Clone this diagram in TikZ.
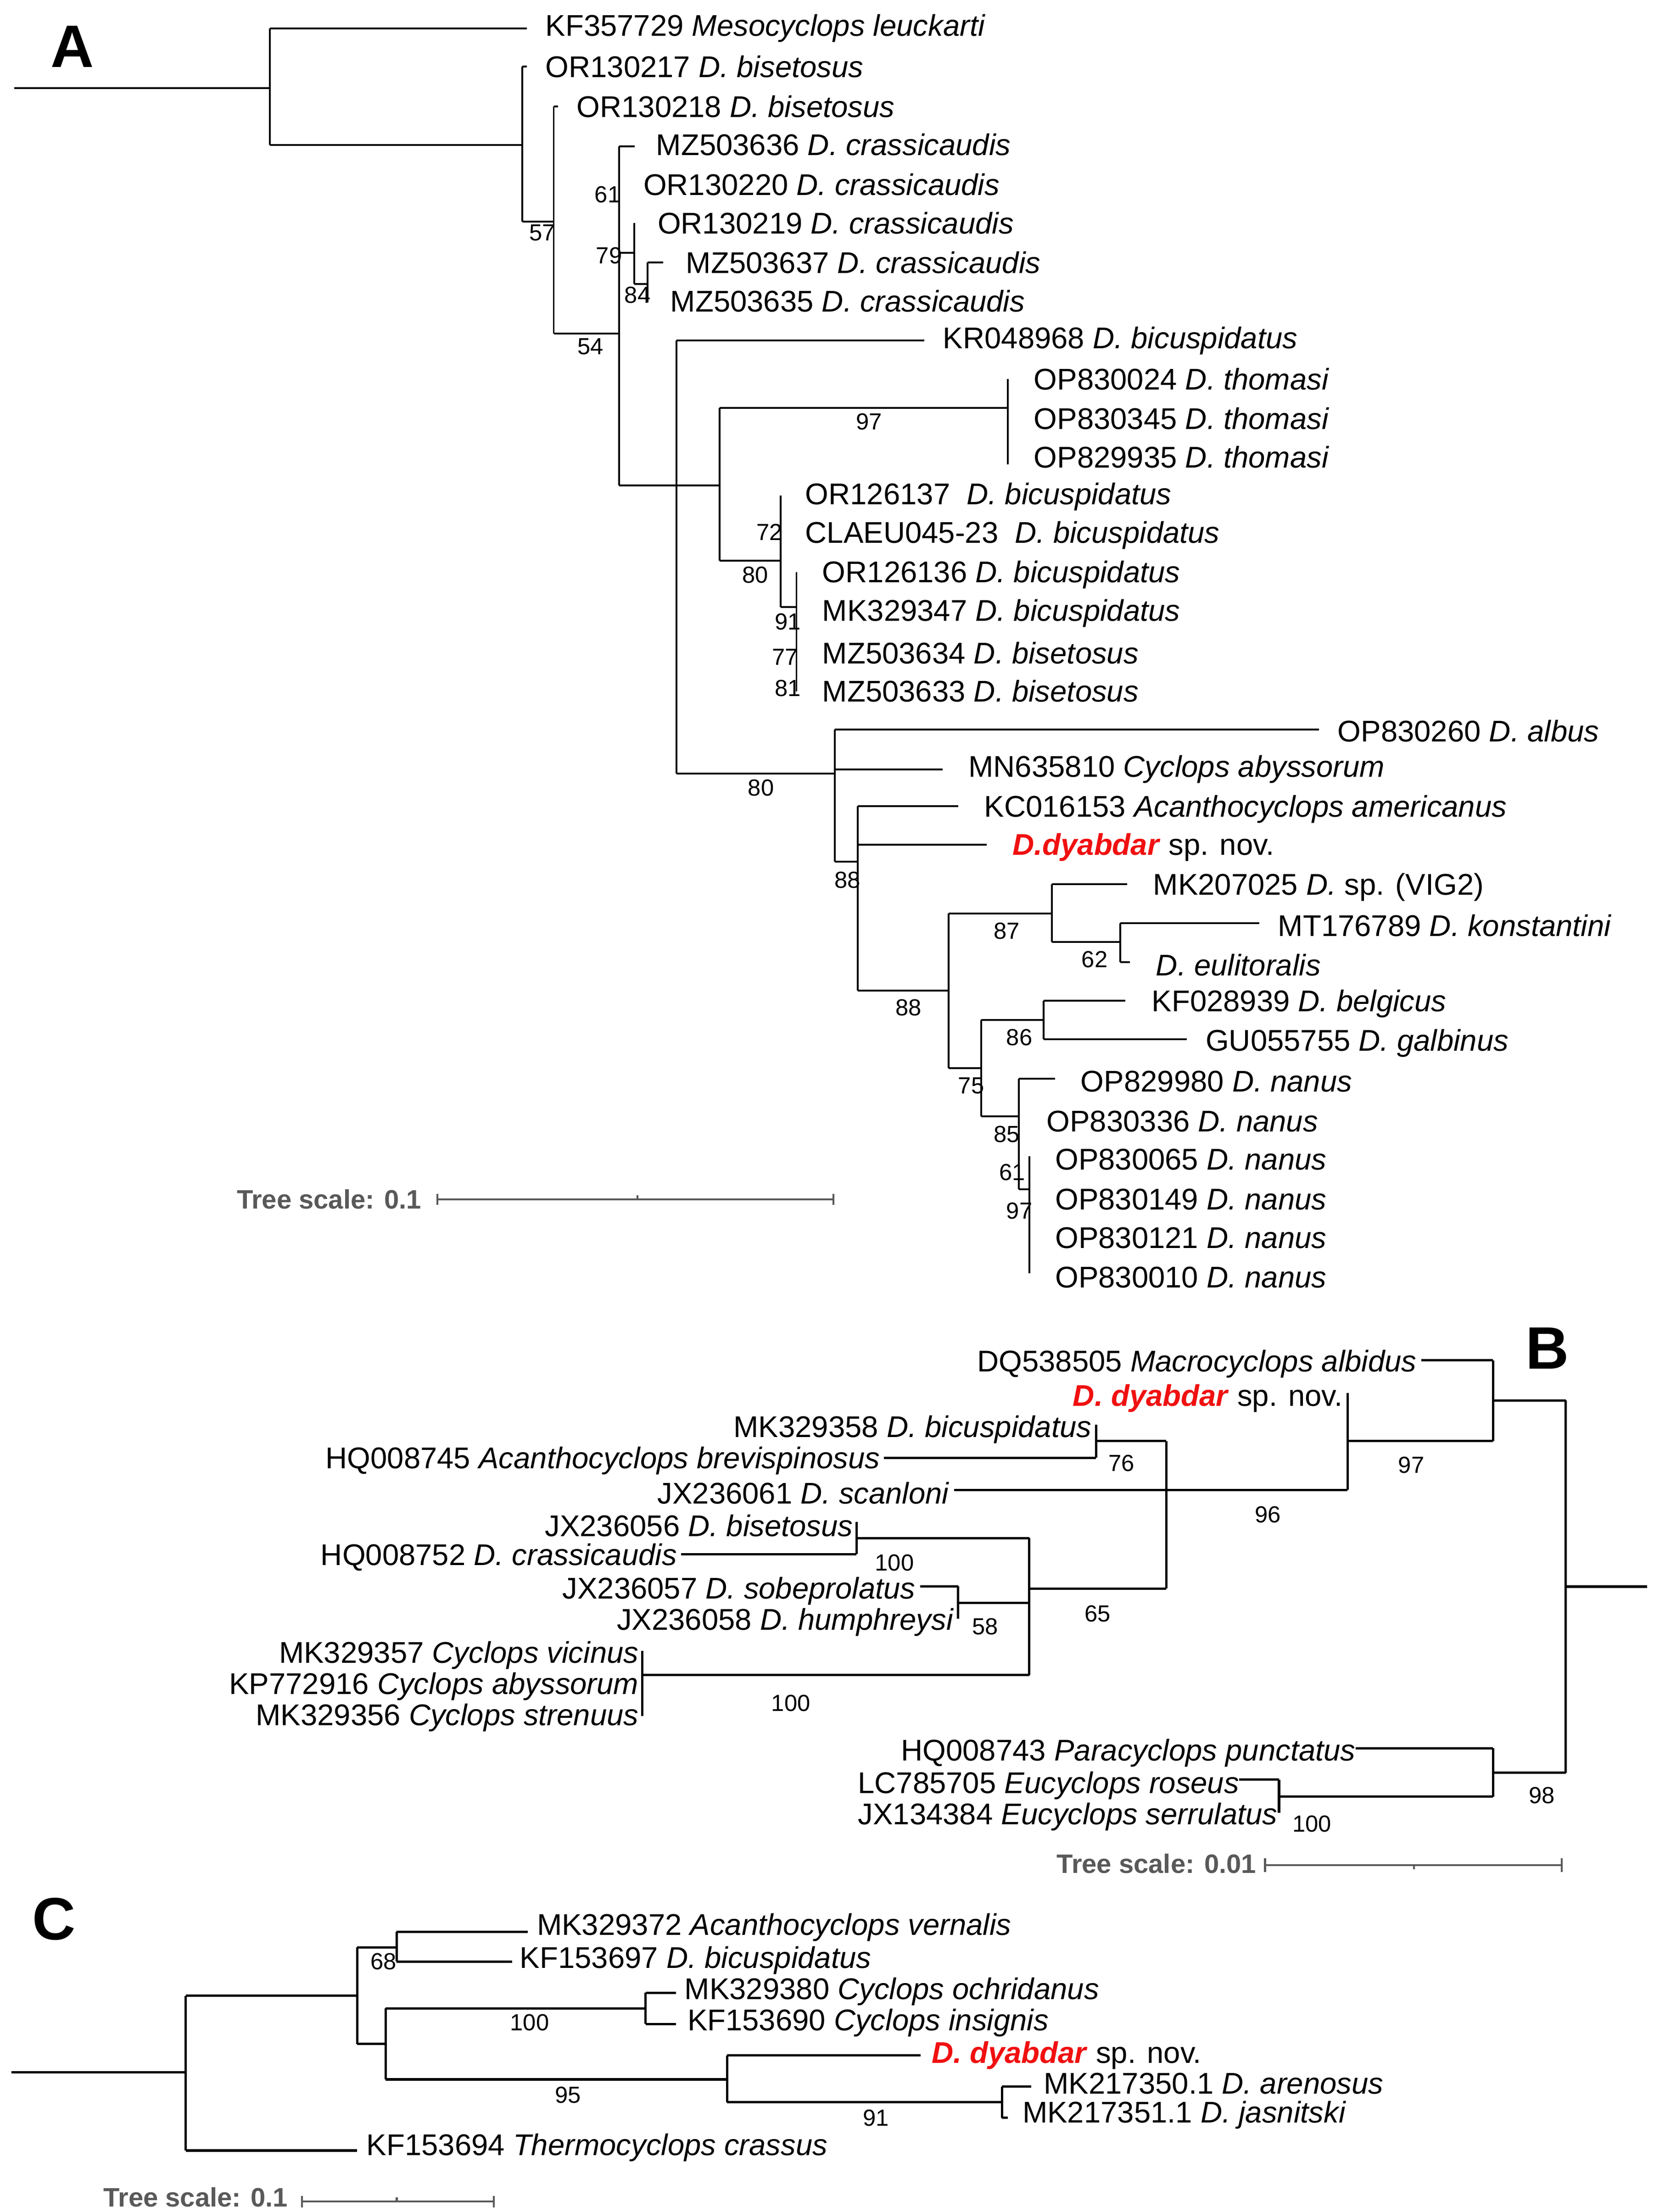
\documentclass[tikz,border=0pt]{standalone}
\usepackage{fontspec}
\setmainfont{Liberation Sans}
\definecolor{scalegray}{HTML}{595959}
\definecolor{novred}{HTML}{F01010}
\newcommand\lfW[4]{\node[lab,anchor=west] at (#1,#2) {#3 \textit{#4}};}
\newcommand\lfE[4]{\node[lab,anchor=east] at (#1,#2) {#3 \textit{#4}};}
\newcommand\bsv[3]{\node[sp] at (#1,#2) {#3};}
\newcommand\dy{\textcolor{novred}{\textbf{\textit{D. dyabdar}}}}
\begin{document}
\begin{tikzpicture}[x=0.03cm,y=-0.03cm,
  lab/.style={inner sep=0pt,font=\fontsize{18}{20}\selectfont},
  sp/.style={inner sep=0pt,font=\fontsize{14}{16}\selectfont},
  br/.style={line width=1.1pt},
  brB/.style={line width=1.4pt},
  brC/.style={line width=1.5pt},
  sc/.style={line width=1.2pt,draw=scalegray},
  sct/.style={inner sep=0pt,font=\fontsize{16}{18}\selectfont\bfseries,text=scalegray},
  panel/.style={inner sep=0pt,font=\fontsize{36}{40}\selectfont\bfseries}]
\useasboundingbox[fill=white] (0,0) rectangle (1165,1558.4);

% ================= A =================
\node[panel] (pA) at (51,33) {A};
\begin{scope}[br]
\draw (10,62) -- (190,62);
\draw (190,20) -- (190,102);
\draw (190,20) -- (371,20);
\draw (190,102) -- (368,102);
\draw (368,47) -- (368,156);
\draw (368,47) -- (371,47);
\draw (368,156) -- (390,156);
\draw (390,75) -- (390,235);
\draw (390,75) -- (393,75);
\draw (390,235) -- (436,235);
\draw (436,103) -- (436,342);
\draw (436,103) -- (447,103);
\draw (436,178) -- (446.6,178);
\draw (446.6,157) -- (446.6,200);
\draw (446.6,200) -- (456,200);
\draw (456,185) -- (456,213);
\draw (456,185) -- (467,185);
\draw (436,342) -- (507,342);
\draw (476.5,240) -- (476.5,545);
\draw (476.5,240) -- (651,240);
\draw (507,287.5) -- (507,395);
\draw (507,287.5) -- (710,287.5);
\draw (710,267) -- (710,327);
\draw (507,395) -- (550,395);
\draw (550,349) -- (550,427.5);
\draw (550,427.5) -- (561,427.5);
\draw (561,403) -- (561,487);
\draw (476.5,545) -- (588,545);
\draw (588,514) -- (588,607);
\draw (588,514) -- (929,514);
\draw (588,542) -- (664,542);
\draw (588,607) -- (604,607);
\draw (604,568) -- (604,698);
\draw (604,568) -- (675,568);
\draw (604,595) -- (695,595);
\draw (604,698) -- (668,698);
\draw (668,643.5) -- (668,752.4);
\draw (668,643.5) -- (741,643.5);
\draw (741,623) -- (741,663.6);
\draw (741,623) -- (794,623);
\draw (741,663.6) -- (789,663.6);
\draw (789,650.5) -- (789,678);
\draw (789,650.5) -- (887,650.5);
\draw (789,678) -- (796,678);
\draw (668,752.4) -- (691,752.4);
\draw (691,718.6) -- (691,786.4);
\draw (691,718.6) -- (735,718.6);
\draw (735,705) -- (735,732);
\draw (735,705) -- (792.5,705);
\draw (735,732) -- (836,732);
\draw (691,786.4) -- (717.6,786.4);
\draw (717.6,760) -- (717.6,838);
\draw (717.6,760) -- (743,760);
\draw (717.6,838) -- (725,838);
\draw (725,814.5) -- (725,897);
\end{scope}

\lfW{384}{20}{KF357729}{Mesocyclops leuckarti}
\lfW{384}{47}{OR130217}{D. bisetosus}
\lfW{406}{75}{OR130218}{D. bisetosus}
\lfW{462}{102}{MZ503636}{D. crassicaudis}
\lfW{453}{130}{OR130220}{D. crassicaudis}
\lfW{463}{157}{OR130219}{D. crassicaudis}
\lfW{483}{185}{MZ503637}{D. crassicaudis}
\lfW{472}{212}{MZ503635}{D. crassicaudis}
\lfW{664}{240}{KR048968}{D. bicuspidatus}
\lfW{728}{267}{OP830024}{D. thomasi}
\lfW{728}{295}{OP830345}{D. thomasi}
\lfW{728}{322}{OP829935}{D. thomasi}
\lfW{567}{350}{OR126137\ }{D. bicuspidatus}
\lfW{567}{377}{CLAEU045-23\ }{D. bicuspidatus}
\lfW{579}{405}{OR126136}{D. bicuspidatus}
\lfW{579}{432}{MK329347}{D. bicuspidatus}
\lfW{579}{460}{MZ503634}{D. bisetosus}
\lfW{579}{487}{MZ503633}{D. bisetosus}
\lfW{942}{515}{OP830260}{D. albus}
\lfW{682}{542}{MN635810}{Cyclops abyssorum}
\lfW{693}{570}{KC016153}{Acanthocyclops americanus}
\node[lab,anchor=west] at (713,597) {\textcolor{novred}{\textbf{\textit{D.dyabdar}}} sp. nov.};
\lfW{812}{625}{MK207025}{D.\upshape\ sp. (VIG2)}
\lfW{900}{652}{MT176789}{D. konstantini}
\node[lab,anchor=west] at (814,680) {\textit{D. eulitoralis}};
\lfW{811}{707}{KF028939}{D. belgicus}
\lfW{849}{735}{GU055755}{D. galbinus}
\lfW{761}{762}{OP829980}{D. nanus}
\lfW{737}{790}{OP830336}{D. nanus}
\lfW{743}{817}{OP830065}{D. nanus}
\lfW{743}{845}{OP830149}{D. nanus}
\lfW{743}{872}{OP830121}{D. nanus}
\lfW{743}{900}{OP830010}{D. nanus}

\bsv{382}{164}{57}
\bsv{416}{244}{54}
\bsv{428}{137}{61}
\bsv{429}{180}{79}
\bsv{449}{208}{84}
\bsv{612}{297}{97}
\bsv{542}{375}{72}
\bsv{532}{405}{80}
\bsv{555}{438}{91}
\bsv{553}{463}{77}
\bsv{555}{485}{81}
\bsv{536}{555}{80}
\bsv{597}{620}{88}
\bsv{709}{656}{87}
\bsv{771}{676}{62}
\bsv{640}{710}{88}
\bsv{718}{731}{86}
\bsv{684}{765}{75}
\bsv{709}{799}{85}
\bsv{713}{826}{61}
\bsv{718}{853}{97}

\node[sct,anchor=east] at (297,845) {Tree scale: 0.1};
\draw[sc] (308,845) -- (587,845);
\draw[sc] (308,841) -- (308,849);
\draw[sc] (587,841) -- (587,849);
\draw[sc] (449,845) -- (449,842);

% ================= B =================
\node[panel] (pB) at (1090,950) {B};
\begin{scope}[brB]
\draw (772,1003.7) -- (772,1027);
\draw (622.5,1027) -- (772,1027);
\draw (772,1015.2) -- (821.4,1015.2);
\draw (821.4,1015.2) -- (821.4,1119.1);
\draw (672,1049.7) -- (949.1,1049.7);
\draw (603.2,1072.3) -- (603.2,1095);
\draw (479.6,1095) -- (603.2,1095);
\draw (603.2,1083.6) -- (724.9,1083.6);
\draw (724.9,1083.6) -- (724.9,1180.1);
\draw (674.8,1117.6) -- (674.8,1140.3);
\draw (648,1117.6) -- (674.8,1117.6);
\draw (674.8,1129.4) -- (724.9,1129.4);
\draw (724.9,1119.1) -- (821.4,1119.1);
\draw (452.3,1163) -- (452.3,1209);
\draw (452.3,1180.1) -- (724.9,1180.1);
\draw (949.1,981.3) -- (949.1,1049.7);
\draw (949.1,1015.2) -- (1051.6,1015.2);
\draw (1051.6,958.3) -- (1051.6,1015.2);
\draw (1001,958.3) -- (1051.6,958.3);
\draw (1051.6,986.7) -- (1102.8,986.7);
\draw (1102.8,986.7) -- (1102.8,1248.9);
\draw (1102.8,1117.8) -- (1160,1117.8);
\draw (1102.8,1248.9) -- (1051.6,1248.9);
\draw (1051.6,1231.6) -- (1051.6,1265.7);
\draw (955,1231.6) -- (1051.6,1231.6);
\draw (900.9,1265.7) -- (1051.6,1265.7);
\draw (900.9,1253.8) -- (900.9,1277.3);
\draw (872.9,1253.8) -- (900.9,1253.8);
\end{scope}

\lfE{998}{961}{DQ538505}{Macrocyclops albidus}
\node[lab,anchor=east] at (946,985) {\dy\ sp. nov.};
\lfE{769}{1007}{MK329358}{D. bicuspidatus}
\lfE{620}{1029}{HQ008745}{Acanthocyclops brevispinosus}
\lfE{669}{1052}{JX236061}{D. scanloni}
\lfE{601}{1075}{JX236056}{D. bisetosus}
\lfE{477}{1097}{HQ008752}{D. crassicaudis}
\lfE{645}{1121}{JX236057}{D. sobeprolatus}
\lfE{672}{1143}{JX236058}{D. humphreysi}
\lfE{450}{1166}{MK329357}{Cyclops vicinus}
\lfE{450}{1188}{KP772916}{Cyclops abyssorum}
\lfE{450}{1210}{MK329356}{Cyclops strenuus}
\lfE{955}{1235}{HQ008743}{Paracyclops punctatus}
\lfE{873}{1258}{LC785705}{Eucyclops roseus}
\lfE{900}{1280}{JX134384}{Eucyclops serrulatus}

\bsv{790}{1031}{76}
\bsv{630}{1101}{100}
\bsv{694}{1146}{58}
\bsv{773}{1137}{65}
\bsv{557}{1200}{100}
\bsv{893}{1067}{96}
\bsv{994}{1032}{97}
\bsv{1086}{1265}{98}
\bsv{924}{1285}{100}

\node[sct,anchor=east] at (885,1313) {Tree scale: 0.01};
\draw[sc] (891,1314) -- (1100,1314);
\draw[sc] (891,1309) -- (891,1319);
\draw[sc] (1100,1309) -- (1100,1319);
\draw[sc] (996,1314) -- (996,1317);

% ================= C =================
\node[panel] (pC) at (38,1352) {C};
\begin{scope}[brC]
\draw (8,1460) -- (130.8,1460);
\draw (130.8,1406) -- (130.8,1515);
\draw (130.8,1515) -- (251.6,1515);
\draw (130.8,1406) -- (251.6,1406);
\draw (251.6,1372) -- (251.6,1440);
\draw (251.6,1372) -- (279.4,1372);
\draw (279.4,1361) -- (279.4,1382);
\draw (279.4,1361) -- (371.8,1361);
\draw (279.4,1382) -- (360.7,1382);
\draw (251.6,1440) -- (271.6,1440);
\draw (271.6,1415) -- (271.6,1465);
\draw (271.6,1415) -- (454.7,1415);
\draw (454.7,1404) -- (454.7,1426);
\draw (454.7,1404) -- (476,1404);
\draw (454.7,1426) -- (476,1426);
\draw (271.6,1465) -- (512.1,1465);
\draw (512.1,1448) -- (512.1,1481);
\draw (512.1,1448) -- (648.4,1448);
\draw (512.1,1481) -- (705.8,1481);
\draw (705.8,1470) -- (705.8,1492);
\draw (705.8,1470) -- (726.4,1470);
\draw (705.8,1492) -- (709.7,1492);
\end{scope}

\lfW{378}{1358}{MK329372}{Acanthocyclops vernalis}
\lfW{366}{1381}{KF153697}{D. bicuspidatus}
\lfW{482}{1403}{MK329380}{Cyclops ochridanus}
\lfW{484}{1425}{KF153690}{Cyclops insignis}
\node[lab,anchor=west] at (656,1448) {\dy\ sp. nov.};
\lfW{735}{1468}{MK217350.1}{D. arenosus}
\lfW{720}{1490}{MK217351.1}{D. jasnitski}
\lfW{258}{1513}{KF153694}{Thermocyclops crassus}

\bsv{270}{1382}{68}
\bsv{373}{1425}{100}
\bsv{400}{1476}{95}
\bsv{617}{1492}{91}

\node[sct,anchor=east] at (203,1548) {Tree scale: 0.1};
\draw[sc] (212.6,1551) -- (347.9,1551);
\draw[sc] (212.6,1547) -- (212.6,1555);
\draw[sc] (347.9,1547) -- (347.9,1555);
\draw[sc] (279.4,1551) -- (279.4,1548);
\end{tikzpicture}
\end{document}
